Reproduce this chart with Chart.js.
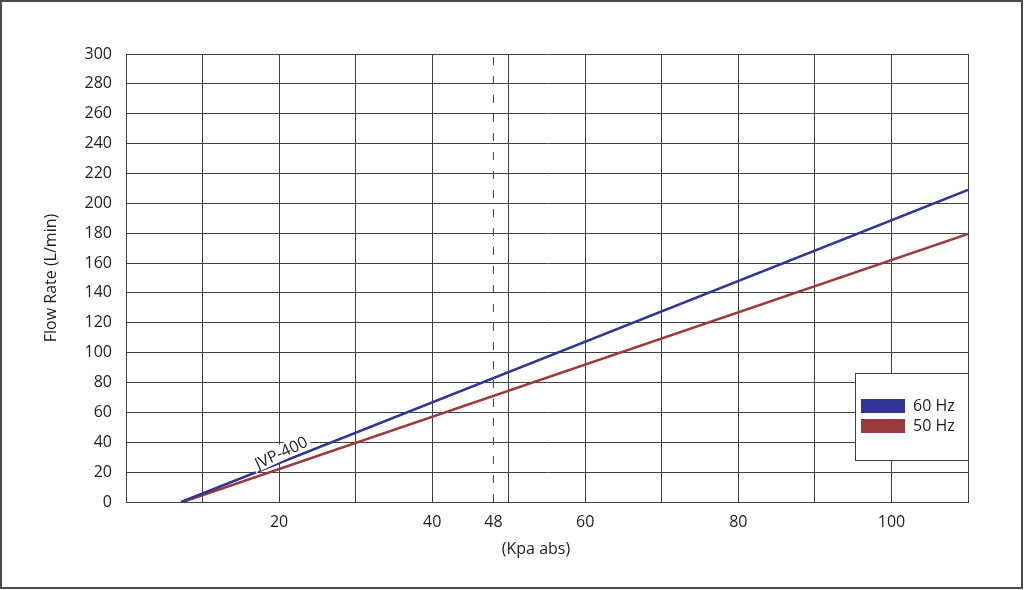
<!DOCTYPE html>
<html>
<head>
<meta charset="utf-8">
<script src="https://cdn.jsdelivr.net/npm/chart.js@4/dist/chart.umd.min.js"></script>
<style>
  html, body { margin: 0; padding: 0; background: #fff; }
  #wrap { width: 1024px; height: 590px; }
</style>
</head>
<body>
<div id="wrap"><canvas id="curva"></canvas></div>
<script>
// valores
const presion60 = [7.2, 110];
const caudal60 = [0, 209];
const presion50 = [7.4, 110];
const caudal50 = [0, 179.5];
const presionMarca = 48;
const etiquetasX = [20, 40, 48, 60, 80, 100];
const rejillaX = [0, 10, 20, 30, 40, 48, 50, 60, 70, 80, 90, 100, 110];
const series = ["60 Hz", "50 Hz"];
const modelo = "JVP-400";

const AZUL = "#2f3592";
const ROJO = "#9b3a3c";
const GRIS = "#3f3f3f";
const TEXTO = "#1e1e1e";
const FUENTE = "'Open Sans', 'Noto Sans', sans-serif";

const puntos = (xs, ys) => xs.map((x, i) => ({ x, y: ys[i] }));

// marco, leyenda, titulo del eje x y etiqueta del modelo
const extras = {
    id: 'extras',
    afterDraw(chart) {
        const { ctx, chartArea, scales } = chart;
        ctx.save();

        ctx.strokeStyle = "#4a4a4a";
        ctx.lineWidth = 2;
        ctx.strokeRect(1, 1, 1021, 587);

        ctx.fillStyle = TEXTO;
        ctx.font = "16px " + FUENTE;
        ctx.textAlign = "center";
        ctx.textBaseline = "middle";
        ctx.fillText("(Kpa abs)", 536, 549);

        // etiqueta girada sobre la linea de 60 Hz
        const px = scales.x.getPixelForValue(20.3);
        const py = scales.y.getPixelForValue(32.5);
        ctx.save();
        ctx.translate(px, py);
        ctx.rotate(-25 * Math.PI / 180);
        ctx.font = "16px " + FUENTE;
        const w = ctx.measureText(modelo).width;
        ctx.fillStyle = "#fff";
        ctx.fillRect(-w / 2 - 3, -9, w + 6, 16);
        ctx.fillStyle = TEXTO;
        ctx.fillText(modelo, 0, 0);
        ctx.restore();

        // leyenda
        const lx = 855, ly = 373, lw = chartArea.right - 855, lh = 87;
        ctx.fillStyle = "#fff";
        ctx.fillRect(lx, ly, lw, lh);
        ctx.strokeStyle = GRIS;
        ctx.lineWidth = 1;
        ctx.strokeRect(lx + 0.5, ly + 0.5, lw, lh);
        ctx.font = "16px " + FUENTE;
        ctx.textAlign = "left";
        chart.data.datasets.filter(d => series.includes(d.label)).forEach((d, i) => {
            const y = 399 + i * 20;
            ctx.fillStyle = d.borderColor;
            ctx.fillRect(861, y, 44, 14);
            ctx.fillStyle = TEXTO;
            ctx.fillText(d.label, 913, y + 7);
        });
        ctx.restore();
    }
};

const ctx = document.getElementById("curva").getContext("2d");
new Chart(ctx, {
    type: "scatter",
    data: {
        datasets: [
            {
                label: series[0],
                data: puntos(presion60, caudal60),
                showLine: true,
                borderColor: AZUL,
                borderWidth: 2.5,
                pointRadius: 0,
            },
            {
                label: series[1],
                data: puntos(presion50, caudal50),
                showLine: true,
                borderColor: ROJO,
                borderWidth: 2.5,
                pointRadius: 0,
            },
            {
                label: "marca",
                data: puntos([presionMarca, presionMarca], [0, 300]),
                showLine: true,
                borderColor: GRIS,
                borderWidth: 1,
                borderDash: [8, 11],
                pointRadius: 0,
            },
        ]
    },
    options: {
        responsive: true,
        maintainAspectRatio: false,
        animation: false,
        layout: { padding: { top: 54, right: 56, left: 0, bottom: 0 } },
        plugins: {
            legend: { display: false },
            tooltip: { enabled: false },
        },
        scales: {
            x: {
                type: 'linear',
                min: 0,
                max: 110,
                afterBuildTicks: s => { s.ticks = rejillaX.map(v => ({ value: v })); },
                afterFit: s => { s.height = 88; },
                ticks: {
                    color: TEXTO,
                    font: { family: FUENTE, size: 16 },
                    padding: 11,
                    maxRotation: 0,
                    autoSkip: false,
                    callback: v => etiquetasX.includes(v) ? String(v) : '',
                },
                grid: {
                    drawTicks: false,
                    color: c => (c.tick && c.tick.value === presionMarca) ? 'rgba(0,0,0,0)' : GRIS,
                    lineWidth: 1,
                },
                border: { color: GRIS, width: 1 },
            },
            y: {
                min: 0,
                max: 300,
                afterFit: s => { s.width = 126; },
                ticks: {
                    stepSize: 20,
                    color: TEXTO,
                    font: { family: FUENTE, size: 16 },
                    padding: 14,
                },
                grid: { drawTicks: false, color: GRIS, lineWidth: 1 },
                border: { color: GRIS, width: 1 },
                title: {
                    display: true,
                    text: "Flow Rate (L/min)",
                    color: TEXTO,
                    font: { family: FUENTE, size: 16 },
                    padding: { top: 42, bottom: 0 },
                },
            },
        },
    },
    plugins: [extras],
});
</script>
</body>
</html>
